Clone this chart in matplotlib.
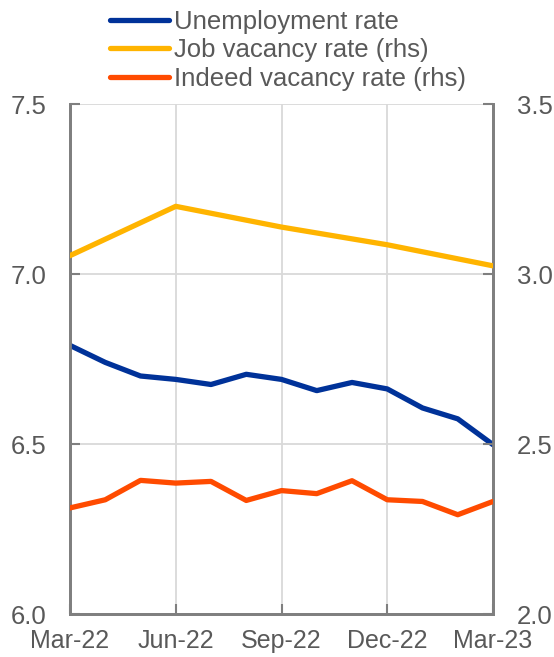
import matplotlib
matplotlib.use("Agg")
import matplotlib.pyplot as plt

months = ["Mar-22", "Apr-22", "May-22", "Jun-22", "Jul-22", "Aug-22", "Sep-22",
          "Oct-22", "Nov-22", "Dec-22", "Jan-23", "Feb-23", "Mar-23"]
unemployment = [6.79, 6.74, 6.70, 6.69, 6.675, 6.705, 6.69, 6.657, 6.681, 6.662, 6.606, 6.574, 6.498]
indeed = [2.312, 2.336, 2.393, 2.385, 2.390, 2.334, 2.363, 2.354, 2.392, 2.336, 2.331, 2.292, 2.331]
quarters = ["Mar-22", "Jun-22", "Sep-22", "Dec-22", "Mar-23"]
job_vacancy = [3.054, 3.199, 3.138, 3.086, 3.024]

BLUE = "#003299"
YELLOW = "#FFB400"
ORANGE = "#FF4B00"
TXT = "#595959"
SPINE = "#7F7F7F"
GRID = "#D9D9D9"

plt.rcParams['font.family'] = ['Liberation Sans', 'DejaVu Sans']
FS = 18.5

fig = plt.figure(figsize=(5.54, 6.57), dpi=100)
ax = fig.add_axes([70/554, 1-614/657, (493-70)/554, (614-104)/657])
ax2 = ax.twinx()

x_m = list(range(len(months)))
x_q = [months.index(q) for q in quarters]

l1, = ax.plot(x_m, unemployment, color=BLUE, lw=3.8, solid_capstyle='round', zorder=3)
l2, = ax2.plot(x_q, job_vacancy, color=YELLOW, lw=3.8, solid_capstyle='round', zorder=3)
l3, = ax2.plot(x_m, indeed, color=ORANGE, lw=3.8, solid_capstyle='round', zorder=3)

ax.set_xlim(0, 12)
ax.set_ylim(6.0, 7.5)
ax2.set_ylim(2.0, 3.5)
ax.set_yticks([6.0, 6.5, 7.0, 7.5])
ax.set_yticklabels(["6.0", "6.5", "7.0", "7.5"])
ax2.set_yticks([2.0, 2.5, 3.0, 3.5])
ax2.set_yticklabels(["2.0", "2.5", "3.0", "3.5"])
ax.set_xticks(x_q)
ax.set_xticklabels(quarters)

ax.grid(True, color=GRID, lw=1.3, zorder=0)
ax.set_axisbelow(True)

for a in (ax, ax2):
    for s in a.spines.values():
        s.set_color(SPINE)
        s.set_linewidth(2)
    a.spines['top'].set_visible(False)
    a.tick_params(direction='in', length=7, width=1.5, color=SPINE,
                  labelsize=FS, labelcolor=TXT)
ax.tick_params(axis='y', pad=17)
ax2.tick_params(axis='y', pad=17)
ax.tick_params(axis='x', pad=11, labelsize=18)

fig.legend([l1, l2, l3], ["Unemployment rate", "Job vacancy rate (rhs)", "Indeed vacancy rate (rhs)"],
           loc='upper left', bbox_to_anchor=(110/554, 1-10/657), frameon=False,
           fontsize=FS, labelcolor=TXT, handlelength=2.3, handletextpad=0.2,
           labelspacing=0.17, borderpad=0, borderaxespad=0)

fig.savefig("out.png", dpi=100)
